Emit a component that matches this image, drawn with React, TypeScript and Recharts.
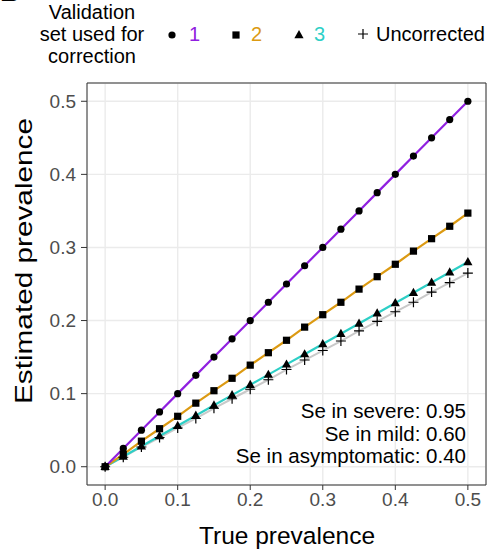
import React from 'react';
import { LineChart, Line, XAxis, YAxis, CartesianGrid, ReferenceArea } from 'recharts';

const TRUE_PREV = [0, 0.025, 0.05, 0.075, 0.1, 0.125, 0.15, 0.175, 0.2, 0.225, 0.25, 0.275, 0.3, 0.325, 0.35, 0.375, 0.4, 0.425, 0.45, 0.475, 0.5];
const EST_SET1 = [0, 0.025, 0.05, 0.075, 0.1, 0.125, 0.15, 0.175, 0.2, 0.225, 0.25, 0.275, 0.3, 0.325, 0.35, 0.375, 0.4, 0.425, 0.45, 0.475, 0.5];
const EST_SET2 = [0, 0.017, 0.035, 0.052, 0.069, 0.087, 0.104, 0.121, 0.139, 0.156, 0.173, 0.191, 0.208, 0.225, 0.243, 0.26, 0.277, 0.295, 0.312, 0.329, 0.347];
const EST_SET3 = [0, 0.014, 0.028, 0.042, 0.056, 0.07, 0.084, 0.098, 0.112, 0.126, 0.14, 0.154, 0.168, 0.182, 0.196, 0.21, 0.224, 0.238, 0.252, 0.266, 0.28];
const UNCORRECTED = [0, 0.013, 0.027, 0.04, 0.053, 0.066, 0.08, 0.093, 0.106, 0.119, 0.133, 0.146, 0.159, 0.172, 0.186, 0.199, 0.212, 0.225, 0.239, 0.252, 0.265];

const TICKS = [0, 0.1, 0.2, 0.3, 0.4, 0.5];
const NOTES = ['Se in severe: 0.95', 'Se in mild: 0.60', 'Se in asymptomatic: 0.40'];

const FONT = '"Liberation Sans", Arial, Helvetica, sans-serif';
const PURPLE = '#9020e0';
const ORANGE = '#dc9a12';
const CYAN = '#2dcfc6';
const GREY = '#c9c9c9';

const data = TRUE_PREV.map((x, i) => ({
  x,
  s1: EST_SET1[i],
  s2: EST_SET2[i],
  s3: EST_SET3[i],
  unc: UNCORRECTED[i],
}));

// marker shapes, ggplot style (pch 16 / 15 / 17 / 3)
const Dot = (p: any) =>
  p.cx == null ? <g key={p.index} /> : <circle key={p.index} cx={p.cx} cy={p.cy} r={3.6} fill="#000" />;
const Square = (p: any) =>
  p.cx == null ? <g key={p.index} /> : <rect key={p.index} x={p.cx - 3.6} y={p.cy - 3.6} width={7.2} height={7.2} fill="#000" />;
const Tri = (p: any) =>
  p.cx == null ? <g key={p.index} /> : (
    <polygon key={p.index} points={`${p.cx},${p.cy - 5} ${p.cx - 4.6},${p.cy + 3.2} ${p.cx + 4.6},${p.cy + 3.2}`} fill="#000" />
  );
const Plus = (p: any) =>
  p.cx == null ? <g key={p.index} /> : (
    <path key={p.index} d={`M${p.cx - 5},${p.cy}H${p.cx + 5}M${p.cx},${p.cy - 5}V${p.cy + 5}`} stroke="#000" strokeWidth={1.2} fill="none" />
  );

const tickStyle = { fontSize: 19, fill: '#4d4d4d', fontFamily: FONT };
const fmt = (v: number) => v.toFixed(1);

export default function App() {
  return (
    <div style={{ position: 'absolute', left: 0, top: 0, width: 493, height: 560, overflow: 'hidden', background: '#fff', fontFamily: FONT }}>
      <div style={{ position: 'absolute', left: 0, top: -22, fontSize: 28, fontWeight: 'bold', lineHeight: '28px' }}>B</div>
      <LineChart
        width={493}
        height={560}
        data={data}
        margin={{ top: 83, right: 7, bottom: 45, left: 27 }}
      >
        <CartesianGrid stroke="#ebebeb" strokeWidth={1.4} />
        <XAxis
          dataKey="x"
          type="number"
          domain={[-0.025, 0.525]}
          ticks={TICKS}
          tickFormatter={fmt}
          allowDataOverflow
          axisLine={false}
          tickSize={5}
          tickMargin={3}
          tickLine={{ stroke: '#333' }}
          tick={tickStyle}
          height={30}
        />
        <YAxis
          type="number"
          domain={[-0.025, 0.525]}
          ticks={TICKS}
          tickFormatter={fmt}
          allowDataOverflow
          axisLine={false}
          tickSize={6}
          tickMargin={5}
          tickLine={{ stroke: '#333' }}
          tick={tickStyle}
          width={60}
        />
        <Line dataKey="unc" stroke={GREY} strokeWidth={2} dot={Plus} activeDot={false} isAnimationActive={false} />
        <Line dataKey="s3" stroke={CYAN} strokeWidth={2.2} dot={Tri} activeDot={false} isAnimationActive={false} />
        <Line dataKey="s2" stroke={ORANGE} strokeWidth={2.2} dot={Square} activeDot={false} isAnimationActive={false} />
        <Line dataKey="s1" stroke={PURPLE} strokeWidth={2.2} dot={Dot} activeDot={false} isAnimationActive={false} />
        <ReferenceArea x1={-0.025} x2={0.525} y1={-0.025} y2={0.525} fill="none" stroke="#333" strokeWidth={1} ifOverflow="visible" />
      </LineChart>

      <svg width={493} height={560} style={{ position: 'absolute', left: 0, top: 0, pointerEvents: 'none' }} fontFamily={FONT}>
        {/* legend */}
        <g fontSize={20} fill="#000">
          <text x={92} y={19} textAnchor="middle">Validation</text>
          <text x={92} y={41} textAnchor="middle">set used for</text>
          <text x={92} y={63} textAnchor="middle">correction</text>
        </g>
        <circle cx={172} cy={35} r={3.6} fill="#000" />
        <text x={189} y={41} fontSize={20} fill={PURPLE}>1</text>
        <rect x={232.4} y={31.4} width={7.2} height={7.2} fill="#000" />
        <text x={251} y={41} fontSize={20} fill={ORANGE}>2</text>
        <polygon points="299,30 294.4,38.2 303.6,38.2" fill="#000" />
        <text x={314} y={41} fontSize={20} fill={CYAN}>3</text>
        <path d="M358,34H368M363,29V39" stroke="#000" strokeWidth={1.2} />
        <text x={376} y={41} fontSize={20} fill="#000">Uncorrected</text>

        {/* annotation */}
        <g fontSize={20.5} fill="#000" textAnchor="end">
          {NOTES.map((t, i) => (
            <text key={t} x={466} y={418 + i * 22.5}>{t}</text>
          ))}
        </g>

        {/* axis titles */}
        <text x={287} y={544} fontSize={24.5} textAnchor="middle" fill="#000">True prevalence</text>
        <text
          x={32}
          y={261}
          fontSize={24.5}
          textAnchor="middle"
          fill="#000"
          textLength={286}
          lengthAdjust="spacingAndGlyphs"
          transform="rotate(-90 32 261)"
        >
          Estimated prevalence
        </text>
      </svg>
    </div>
  );
}
